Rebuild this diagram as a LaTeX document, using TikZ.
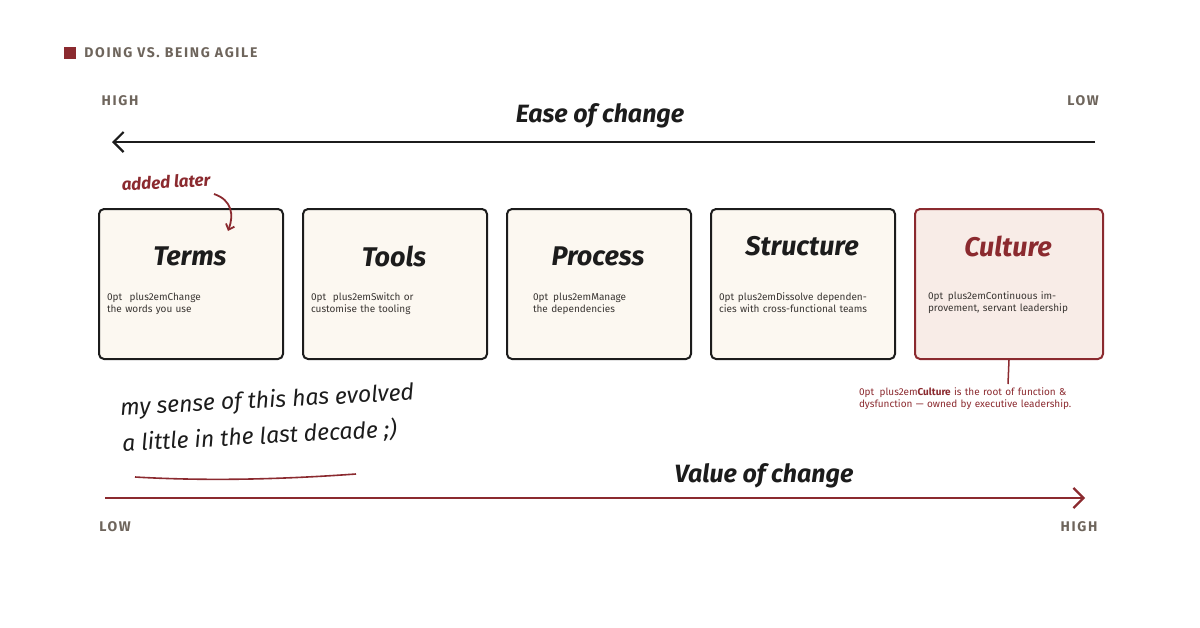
\documentclass[tikz,border=0pt]{standalone}
\usepackage{fontspec}
\setmainfont{Fira Sans}
\newfontfamily\handfont{Fira Sans}
\usetikzlibrary{positioning,arrows.meta}
\definecolor{inkred}{HTML}{8B2A2F}
\definecolor{inkgray}{HTML}{6E655C}
\definecolor{paper}{HTML}{FCF8F1}
\definecolor{rosepaper}{HTML}{F8ECE7}
\definecolor{ink}{HTML}{1C1C1C}
\definecolor{bodytext}{HTML}{3A3633}
\begin{document}
\begin{tikzpicture}[x=1pt,y=-1pt,
card/.style={draw=ink,line width=2pt,rounded corners=5pt,fill=paper,
    minimum width=184pt,minimum height=150pt,anchor=north west},
title/.style={font=\handfont\bfseries\itshape\fontsize{27}{29}\selectfont,text=ink},
body/.style={font=\hyphenpenalty=10000\fontsize{15}{20}\selectfont,text=bodytext,text width=166pt,align=center},
axis/.style={font=\bfseries\fontsize{14}{16}\selectfont\addfontfeature{LetterSpace=12},text=inkgray},
axtitle/.style={font=\handfont\bfseries\itshape\fontsize{25}{27}\selectfont,text=ink}]
\useasboundingbox (0,0) rectangle (1200,627);

% header
\node (mark) [fill=inkred,minimum size=12pt,inner sep=0pt] at (70,53) {};
\node (header) [right=8pt of mark,axis,inner sep=0pt] {DOING VS. BEING AGILE};

% top axis
\node (hiTop) [axis] at (120,101) {HIGH};
\node (loTop) [axis] at (1083,101) {LOW};
\node (ease) [axtitle] at (600,116) {Ease of change};
\coordinate (easeR) at (1095,142);
\coordinate (easeL) at (112,142);
\draw [ink,line width=2.2pt,-{Straight Barb[length=10pt,width=20pt,line width=2.2pt]}] (easeR) -- (easeL);

% cards
\node (terms) [card] at (98,208) {};
\node (tools) [card] at (302,208) {};
\node (process) [card] at (506,208) {};
\node (structure) [card] at (710,208) {};
\node (culture) [card,draw=inkred,fill=rosepaper,minimum width=188pt] at (914,208) {};

\node [title] at (190,256) {Terms};
\node [body] at (190,304) {Change the words you use};
\node [title] at (394,256) {Tools};
\node [body] at (394,304) {Switch or customise the tooling};
\node [title] at (598,256) {Process};
\node [body,text width=130pt] at (598,304) {Manage the dependencies};
\node [title] at (802,246) {Structure};
\node [body] at (802,303) {Dissolve dependencies with cross-functional teams};
\node [title,text=inkred] at (1008,246) {Culture};
\node [body,text width=160pt] at (1008,303) {Continuous improvement, servant leadership};

% added later
\node (added) [font=\handfont\bfseries\itshape\fontsize{17}{19}\selectfont,text=inkred,rotate=3] at (166,182) {added later};
\coordinate (addedTip) at (228,231);
\draw [inkred,line width=1.8pt,-{Straight Barb[length=5pt,width=9pt]}] (214,194) .. controls (232,200) and (234,215) .. (addedTip);

% culture note
\coordinate (cultNote) at (1008,384);
\draw [inkred,line width=1.5pt] (culture.south) -- (cultNote);
\node (note) [font=\hyphenpenalty=10000\fontsize{15}{22}\selectfont,text=inkred,text width=250pt,align=center,below=0pt of cultNote,xshift=-24pt]
  {\textbf{Culture} is the root of function \& dysfunction — owned by executive leadership.};

% hand note
\node (evolved) [font=\handfont\itshape\fontsize{23}{36}\selectfont,text=ink,align=left,rotate=3,anchor=north west] at (116,394)
  {my sense of this has evolved\\a little in the last decade ;)};
\draw [inkred,line width=1.6pt] (135,477) .. controls (220,482) and (300,478) .. (356,474);

% bottom axis
\node (value) [axtitle] at (764,476) {Value of change};
\coordinate (valL) at (105,498);
\coordinate (valR) at (1085,498);
\draw [inkred,line width=2.2pt,-{Straight Barb[length=10pt,width=20pt,line width=2.2pt]}] (valL) -- (valR);
\node (loBot) [axis] at (115,527) {LOW};
\node (hiBot) [axis] at (1079,527) {HIGH};
\end{tikzpicture}
\end{document}
